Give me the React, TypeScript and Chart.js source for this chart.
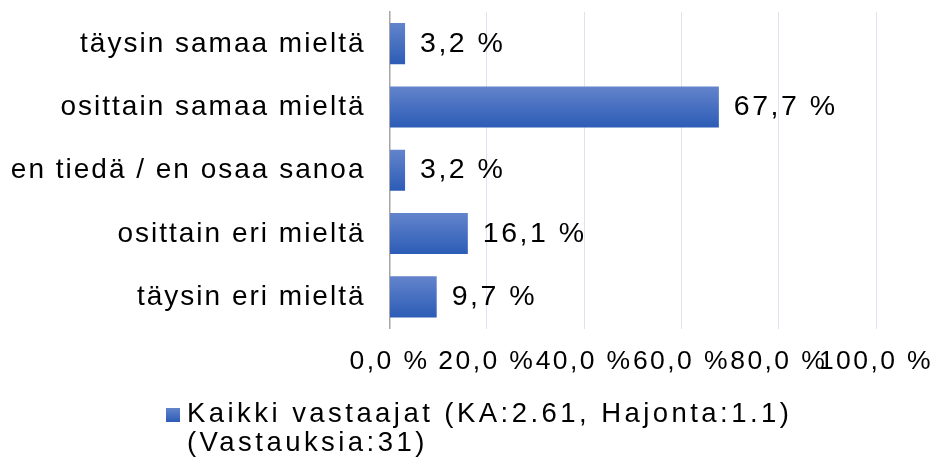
import React, { useEffect, useRef } from "react";
import { Chart, registerables } from "chart.js";

Chart.register(...registerables);

const categories = [
  "täysin samaa mieltä",
  "osittain samaa mieltä",
  "en tiedä / en osaa sanoa",
  "osittain eri mieltä",
  "täysin eri mieltä",
];
const values = [3.2, 67.7, 3.2, 16.1, 9.7];
const tickValues = [0, 20, 40, 60, 80, 100];
const seriesName = "Kaikki vastaajat (KA:2.61, Hajonta:1.1)";
const seriesNote = "(Vastauksia:31)";

const FONT = '"Liberation Sans", Arial, Helvetica, sans-serif';
const fmt = (v: number) => v.toFixed(1).replace(".", ",") + " %";

const makeGrad = (ctx: CanvasRenderingContext2D, top: number, bottom: number) => {
  const g = ctx.createLinearGradient(0, top, 0, bottom);
  g.addColorStop(0, "#6384cc");
  g.addColorStop(1, "#2c5cb6");
  return g;
};

const textPlugin = {
  id: "customText",
  beforeDraw(chart: any) {
    (chart.ctx as any).letterSpacing = "2.4px";
  },
  afterDraw(chart: any) {
    const { ctx, chartArea, scales } = chart;
    const x = scales.x;
    const y = scales.y;
    ctx.save();
    ctx.fillStyle = "#000";
    ctx.textBaseline = "alphabetic";

    // category labels
    ctx.font = `28px ${FONT}`;
    (ctx as any).letterSpacing = "2px";
    ctx.textAlign = "right";
    categories.forEach((c, i) => {
      const yc = y.getPixelForValue(i);
      ctx.fillText(c, chartArea.left - 26 + 2, yc + 8);
    });

    // data labels
    (ctx as any).letterSpacing = "2.5px";
    ctx.font = `28.5px ${FONT}`;
    ctx.textAlign = "left";
    values.forEach((v, i) => {
      const yc = y.getPixelForValue(i);
      ctx.fillText(fmt(v), x.getPixelForValue(v) + 15, yc + 8);
    });

    // legend
    ctx.font = `27.5px ${FONT}`;
    (ctx as any).letterSpacing = "3.45px";
    ctx.fillStyle = makeGrad(ctx, 408, 422);
    ctx.fillRect(166, 408, 14, 14);
    ctx.fillStyle = "#000";
    ctx.fillText(seriesName, 187, 422);
    ctx.fillText(seriesNote, 187, 451);

    (ctx as any).letterSpacing = "0px";
    ctx.restore();
  },
};

export default function App() {
  const ref = useRef<HTMLCanvasElement | null>(null);
  useEffect(() => {
    document.body.style.margin = "0";
    const canvas = ref.current!;
    const chart = new Chart(canvas, {
      type: "bar",
      data: {
        labels: categories,
        datasets: [
          {
            label: seriesName,
            data: values,
            borderWidth: 0,
            barPercentage: 0.65,
            categoryPercentage: 1,
            backgroundColor: (c: any) => {
              const ch = c.chart;
              const { ctx, chartArea, scales } = ch;
              if (!chartArea || c.dataIndex === undefined || !scales.y) return "#4472c4";
              const yc = scales.y.getPixelForValue(c.dataIndex);
              const h = ((chartArea.bottom - chartArea.top) / categories.length) * 0.65;
              return makeGrad(ctx, yc - h / 2, yc + h / 2);
            },
          },
        ],
      },
      options: {
        indexAxis: "y",
        responsive: false,
        animation: false,
        events: [],
        layout: { padding: { left: 0.5, right: 56, top: 12, bottom: 78.5 } },
        plugins: {
          legend: { display: false },
          tooltip: { enabled: false },
        },
        scales: {
          x: {
            min: 0,
            max: 100,
            afterBuildTicks: (s: any) => {
              s.ticks = tickValues.map((v) => ({ value: v }));
            },
            afterFit: (s: any) => {
              s.height = 50;
              s.paddingLeft = 0;
              s.paddingRight = 0;
            },
            ticks: {
              autoSkip: false,
              maxRotation: 0,
              minRotation: 0,
              padding: 17,
              color: "#000",
              font: { family: FONT, size: 26.5 },
              callback: (v: any) => fmt(Number(v)),
            },
            grid: { color: "#dde4f0", lineWidth: 1, drawTicks: false },
            border: { display: false },
          },
          y: {
            ticks: { display: false },
            grid: { display: false, drawTicks: false },
            border: { display: true, color: "#a6a6a6", width: 1.5 },
            afterFit: (s: any) => {
              s.width = 389;
              s.paddingTop = 0;
              s.paddingBottom = 0;
            },
          },
        },
      },
      plugins: [textPlugin],
    } as any);
    return () => chart.destroy();
  }, []);
  return (
    <div style={{ width: 932, height: 457 }}>
      <canvas ref={ref} width={932} height={457} style={{ display: "block" }} />
    </div>
  );
}
